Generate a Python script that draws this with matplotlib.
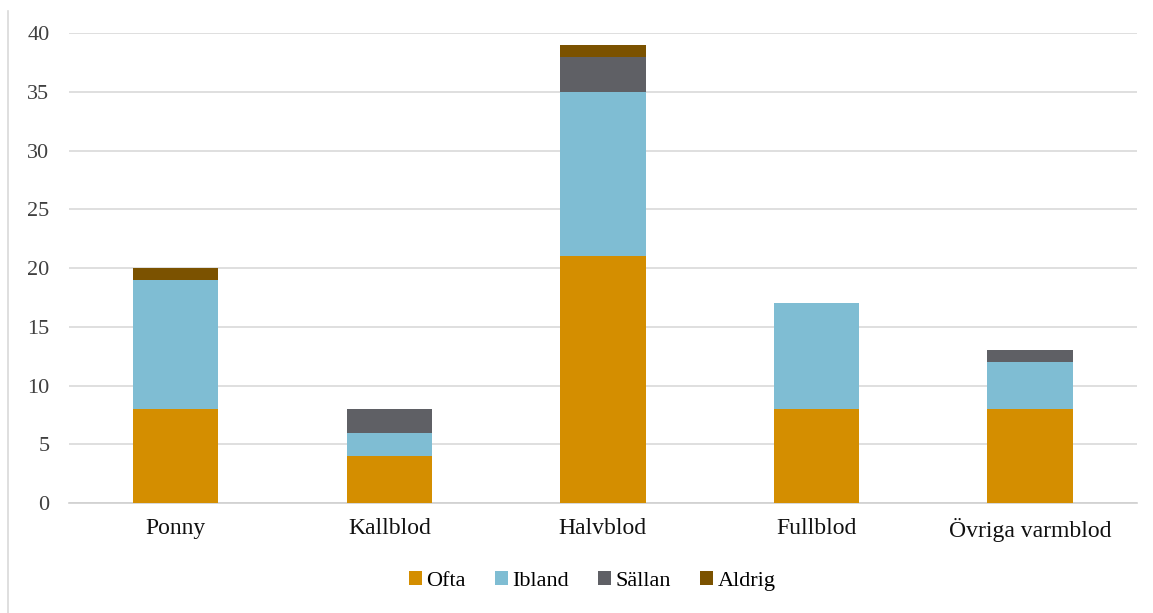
import matplotlib.pyplot as plt
import numpy as np
from matplotlib.lines import Line2D

categories = ["Ponny", "Kallblod", "Halvblod", "Fullblod", "Övriga varmblod"]
ofta = [8, 4, 21, 8, 8]
ibland = [11, 2, 14, 9, 4]
sallan = [0, 2, 3, 0, 1]
aldrig = [1, 0, 1, 0, 0]

series = [("Ofta", ofta, "#D48E00"), ("Ibland", ibland, "#7FBDD3"),
          ("Sällan", sallan, "#5F6065"), ("Aldrig", aldrig, "#7B5200")]

plt.rcParams["font.family"] = ["Liberation Serif", "DejaVu Serif"]

fig = plt.figure(figsize=(11.53, 6.13), dpi=100)
ax = fig.add_axes([0.0598, 0.1794, 0.9262, 0.7667])

x = np.arange(len(categories))
bottom = np.zeros(len(categories))
for name, vals, color in series:
    ax.bar(x, vals, width=0.4, bottom=bottom, color=color, label=name, zorder=3)
    bottom += np.array(vals)

ax.set_xlim(-0.5, len(categories) - 0.5)
ax.set_ylim(0, 40)
ax.set_yticks(range(0, 41, 5))
ax.set_xticks(x)
ax.set_xticklabels(categories, fontsize=17, color="#111111")
ax.tick_params(axis="y", labelsize=16, labelcolor="#404040", length=0, pad=14)
ax.tick_params(axis="x", length=0, pad=11)
ax.grid(True, axis="y", color="#D9D9D9", linewidth=1.2, zorder=0)
for side in ["top", "right", "left"]:
    ax.spines[side].set_visible(False)
ax.spines["bottom"].set_color("#D0D0D0")
ax.spines["bottom"].set_linewidth(1.2)

ax.legend(loc="center", bbox_to_anchor=(0.49, -0.165), ncol=4, frameon=False,
          fontsize=16, handlelength=0.6, handleheight=0.6, handletextpad=0.2,
          columnspacing=1.3)

fig.add_artist(Line2D([8 / 1153, 8 / 1153], [0, 1 - 11 / 613],
                      transform=fig.transFigure, color="#D9D9D9", linewidth=1.2))

fig.savefig("out.png", dpi=100)
